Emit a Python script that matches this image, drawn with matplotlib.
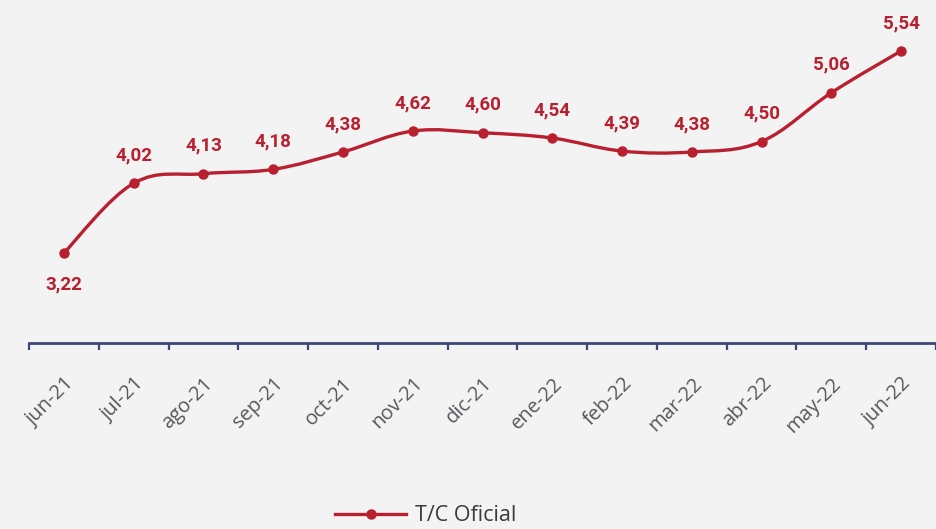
import matplotlib
matplotlib.use("Agg")
import matplotlib.pyplot as plt
import numpy as np
from matplotlib.path import Path
from matplotlib.patches import PathPatch
from matplotlib.lines import Line2D
from matplotlib.ticker import FixedLocator

categories = ["jun-21", "jul-21", "ago-21", "sep-21", "oct-21", "nov-21", "dic-21",
              "ene-22", "feb-22", "mar-22", "abr-22", "may-22", "jun-22"]
values = [3.22, 4.02, 4.13, 4.18, 4.38, 4.62, 4.60, 4.54, 4.39, 4.38, 4.50, 5.06, 5.54]
labels = ["3,22", "4,02", "4,13", "4,18", "4,38", "4,62", "4,60", "4,54", "4,39", "4,38", "4,50", "5,06", "5,54"]
series_name = "T/C Oficial"

RED = "#b8202f"
NAVY = "#3d4677"
GRAY = "#58585c"
BG = "#f3f3f4"

plt.rcParams['font.family'] = ['Open Sans', 'DejaVu Sans']

fig = plt.figure(figsize=(9.36, 5.29), dpi=100, facecolor=BG)
ax = fig.add_axes([29/936, 186/529, 907/936, 343/529])
ax.set_facecolor(BG)

x = np.arange(len(values))
y = np.array(values)

# smooth curve (Catmull-Rom -> cubic Bezier)
verts = [(x[0], y[0])]
codes = [Path.MOVETO]
t = 0.18
for i in range(len(x) - 1):
    p0 = (x[max(i-1, 0)], y[max(i-1, 0)])
    p1 = (x[i], y[i])
    p2 = (x[i+1], y[i+1])
    p3 = (x[min(i+2, len(x)-1)], y[min(i+2, len(x)-1)])
    c1 = (p1[0] + (p2[0]-p0[0])*t, p1[1] + (p2[1]-p0[1])*t)
    c2 = (p2[0] - (p3[0]-p1[0])*t, p2[1] - (p3[1]-p1[1])*t)
    verts += [c1, c2, p2]
    codes += [Path.CURVE4]*3
ax.add_patch(PathPatch(Path(verts, codes), fill=False, edgecolor=RED, lw=2.4, zorder=3))
ax.plot(x, y, 'o', color=RED, ms=6.5, zorder=4)

for i, (xi, yi, lab) in enumerate(zip(x, y, labels)):
    off = -31 if i == 0 else 28
    ax.annotate(lab, (xi, yi), xytext=(0, off), textcoords='offset pixels',
                ha='center', va='center', color=RED, fontsize=13.5, fontweight='semibold',
                family=['Roboto', 'DejaVu Sans'])

ax.set_xlim(-0.5, 12.5)
ax.set_ylim(2.186, 6.125)

for s in ['top', 'right', 'left']:
    ax.spines[s].set_visible(False)
ax.spines['bottom'].set_color(NAVY)
ax.spines['bottom'].set_linewidth(2)
ax.set_yticks([])

ax.xaxis.set_major_locator(FixedLocator(x))
ax.set_xticklabels(categories, rotation=45, ha='right', rotation_mode='anchor',
                   color=GRAY, fontsize=14.5)
ax.tick_params(axis='x', which='major', length=0, pad=22)
ax.xaxis.set_minor_locator(FixedLocator(np.arange(-0.5, 13, 1.0)))
ax.tick_params(axis='x', which='minor', length=5, width=1.6, color=NAVY, direction='out')

handle = Line2D([], [], color=RED, lw=2.4, marker='o', ms=6.5)
fig.legend([handle], [series_name], loc='center', bbox_to_anchor=(0.455, 0.025),
           frameon=False, fontsize=15.5, labelcolor="#3a3a3e", handlelength=3.3,
           handletextpad=0.4)

fig.savefig("out.png", dpi=100, facecolor=BG)
